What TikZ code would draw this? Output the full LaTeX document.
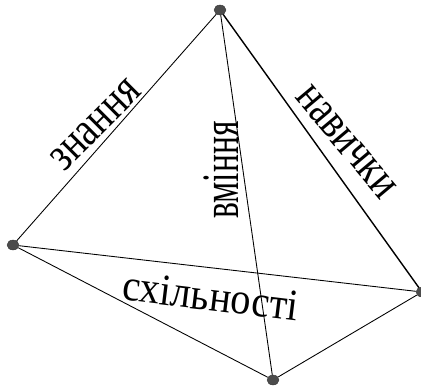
\documentclass[tikz,border=0pt]{standalone}
\usepackage{fontspec}
\setmainfont{Liberation Serif}
\usetikzlibrary{shapes.geometric}

\begin{document}
\begin{tikzpicture}[
        x=0.02cm, y=-0.02cm,
        % Style for the corner points
        vertexdot/.style={ellipse, draw=black!80, fill=black!70, line width=0.2pt, inner sep=0pt, minimum width=0.24cm, minimum height=0.2cm},
        % Style for the rotated words
        edgelabel/.style={inner sep=0pt, font=\fontsize{23}{26}\selectfont},
        edgeline/.style={line width=0.5pt}
    ]
    \useasboundingbox (0,0) rectangle (421,385);

    % --- corner points ---
    \node[vertexdot] (Top) at (220,10) {};
    \node[vertexdot] (Left) at (13,245) {};
    \node[vertexdot] (Right) at (422,292) {};
    \node[vertexdot] (Bot) at (273,380) {};

    % --- edges ---
    \draw[edgeline] (Top) -- (Left);
    \draw[edgeline] (Top) -- (Bot);
    \draw[edgeline, line width=0.8pt] (Top) -- (Right);
    \draw[edgeline] (Left) -- (Right);
    \draw[edgeline] (Left) -- (Bot);
    \draw[edgeline] (Right) -- (Bot);

    % --- words ---
    \node[edgelabel, rotate=45, xscale=0.95, yscale=1.2] (Know) at (96,125) {знання};
    \node[edgelabel, rotate=90, xscale=0.83, yscale=1.3] (Skill) at (221,170) {вміння};
    \node[edgelabel, rotate=-50, xscale=0.95, yscale=1.2] (Habit) at (346,142) {навички};
    \node[edgelabel, rotate=-7, yscale=1.1] (Incl) at (211,296) {схільності};

\end{tikzpicture}
\end{document}
